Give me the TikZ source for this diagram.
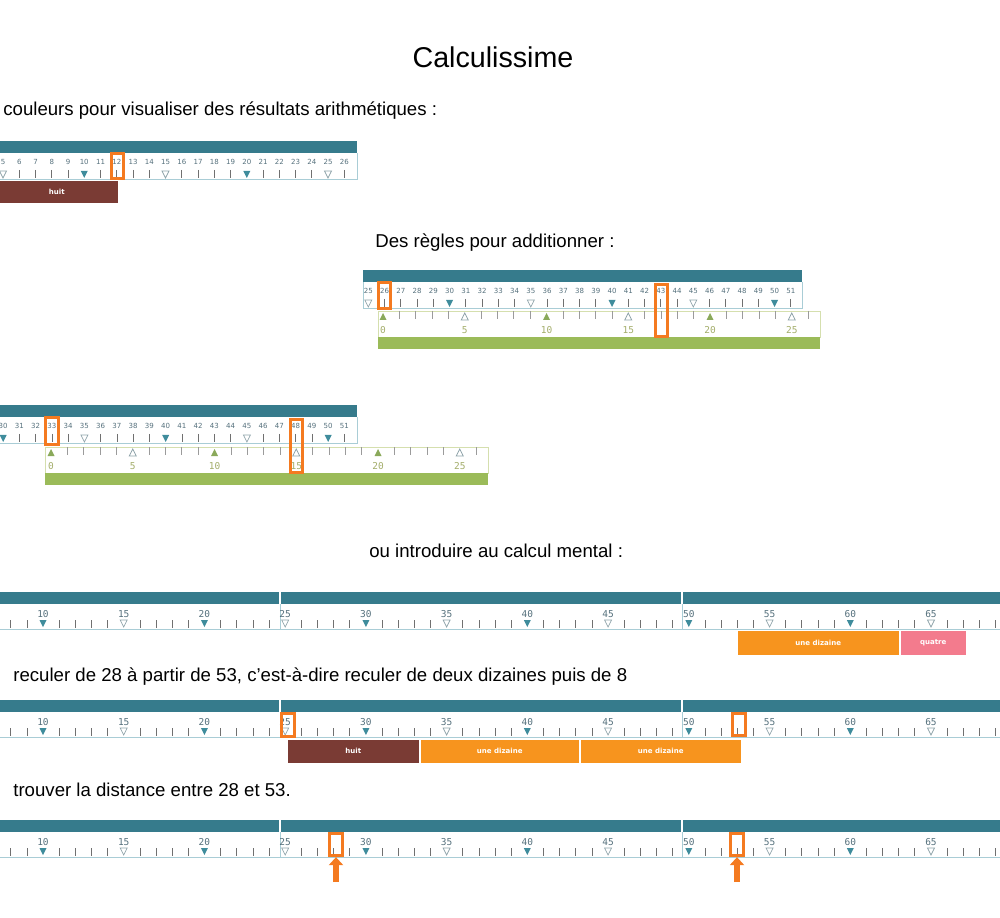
\documentclass[tikz,border=0pt]{standalone}
\usepackage{fontspec}
\setmainfont{Liberation Sans}
\newfontfamily\rulersans{DejaVu Sans}
\newfontfamily\rulermono{DejaVu Sans Mono}
\usetikzlibrary{arrows.meta,positioning}

\definecolor{barteal}{HTML}{367B8C}
\definecolor{rimblue}{HTML}{A9CDD6}
\definecolor{tealtri}{HTML}{3F8C9C}
\definecolor{hollowgray}{HTML}{8FA3AA}
\definecolor{tickgray}{HTML}{707070}
\definecolor{numteal}{HTML}{55707C}
\definecolor{leafgreen}{HTML}{9BBB59}
\definecolor{rimgreen}{HTML}{D5DFAE}
\definecolor{greentri}{HTML}{8AA95A}
\definecolor{greennum}{HTML}{A3AD6A}
\definecolor{hiorange}{HTML}{F47A20}
\definecolor{brickred}{HTML}{7A3B34}
\definecolor{dizorange}{HTML}{F7941E}
\definecolor{quatpink}{HTML}{F37B8D}

% short teal ruler: top y, left x, right x, x of first number, first number, last number
\newcommand{\tealruler}[6]{%
  \fill[barteal] (#2,#1) rectangle (#3,#1+12);
  \draw[rimblue] (#2,#1+12) -- (#2,#1+38) -- (#3,#1+38) -- (#3,#1+12);
  \foreach \v in {#5,...,#6}{%
    \pgfmathsetmacro{\xx}{#4+(\v-#5)*16.25}
    \pgfmathtruncatemacro{\rr}{mod(\v,10)}
    \node[smallnum] at (\xx,#1+21) {\v};
    \ifnum\rr=0
      \fill[tealtri] (\xx-3.5,#1+30) -- (\xx+3.5,#1+30) -- (\xx,#1+37) -- cycle;
    \else\ifnum\rr=5
      \draw[hollowgray] (\xx-3.5,#1+30) -- (\xx+3.5,#1+30) -- (\xx,#1+37) -- cycle;
    \else
      \draw[tickgray] (\xx,#1+29) -- (\xx,#1+37);
    \fi\fi
  }%
}

% green ruler: top y, left x, right x, x of zero
\newcommand{\greenruler}[4]{%
  \draw[rimgreen] (#2,#1) rectangle (#3,#1+26);
  \fill[leafgreen] (#2,#1+26) rectangle (#3,#1+38);
  \foreach \u in {0,...,26}{%
    \pgfmathsetmacro{\xx}{#4+\u*16.35}
    \pgfmathtruncatemacro{\rr}{mod(\u,10)}
    \pgfmathtruncatemacro{\ff}{mod(\u,5)}
    \ifnum\ff=0 \node[greennumber] at (\xx,#1+19) {\u}; \fi
    \ifnum\rr=0
      \fill[greentri] (\xx-3.5,#1+9) -- (\xx+3.5,#1+9) -- (\xx,#1+2) -- cycle;
    \else\ifnum\rr=5
      \draw[hollowgray] (\xx-3.5,#1+9) -- (\xx+3.5,#1+9) -- (\xx,#1+2) -- cycle;
    \else
      \draw[tickgray!70] (\xx,#1) -- (\xx,#1+8);
    \fi\fi
  }%
}

% long ruler across the page: top y
\newcommand{\longruler}[1]{%
  \fill[barteal] (-5,#1) rectangle (1005,#1+12);
  \draw[rimblue] (-5,#1+37) -- (1005,#1+37);
  \foreach \s in {280,682}{%
    \draw[white, line width=0.6pt] (\s,#1) -- (\s,#1+12);
    \draw[rimblue] (\s,#1+12) -- (\s,#1+37);
  }%
  \foreach \v in {8,...,69}{%
    \pgfmathsetmacro{\xx}{43+(\v-10)*16.145}
    \pgfmathtruncatemacro{\rr}{mod(\v,10)}
    \pgfmathtruncatemacro{\ff}{mod(\v,5)}
    \ifnum\ff=0 \node[bignum] at (\xx,#1+22) {\v}; \fi
    \ifnum\rr=0
      \fill[tealtri] (\xx-3.5,#1+28) -- (\xx+3.5,#1+28) -- (\xx,#1+35) -- cycle;
    \else\ifnum\rr=5
      \draw[hollowgray] (\xx-3.5,#1+28) -- (\xx+3.5,#1+28) -- (\xx,#1+35) -- cycle;
    \else
      \draw[tickgray] (\xx,#1+28) -- (\xx,#1+36);
    \fi\fi
  }%
}

\begin{document}
\begin{tikzpicture}[x=0.02cm, y=-0.02cm,
    smallnum/.style={font=\rulersans\fontsize{4}{5}\selectfont, text=numteal, inner sep=0},
    bignum/.style={font=\rulermono\fontsize{5.4}{6}\selectfont, text=numteal, inner sep=0},
    greennumber/.style={font=\rulermono\fontsize{5.4}{6}\selectfont, text=greennum, inner sep=0},
    say/.style={font=\fontsize{10.6}{12}\selectfont, anchor=west, inner sep=0},
    hibox/.style={draw=hiorange, line width=0.065cm, inner sep=0, minimum width=0.25cm},
    barbox/.style={draw=white, line width=0.3pt, inner sep=0, text=white,
      font=\rulersans\bfseries\fontsize{4}{5}\selectfont, minimum height=0.48cm},
    hiarrow/.style={draw=hiorange, line width=0.12cm, -{Triangle[width=0.28cm, length=0.16cm]}}]
  \useasboundingbox (0,0) rectangle (1000,918);

  % title and captions
  \node[font=\fontsize{16.3}{19}\selectfont, inner sep=0] (title) at (493,57) {Calculissime};
  \node[say] (capcolours) at (3,111) {couleurs pour visualiser des résultats arithmétiques :};
  \node[say] (caprules) at (375,243) {Des règles pour additionner :};
  \node[say] (capmental) at (369,551) {ou introduire au calcul mental :};
  \node[say] (capback) at (13,677) {reculer de 28 à partir de 53, c’est-à-dire reculer de deux dizaines puis de 8};
  \node[say] (capdist) at (13,790) {trouver la distance entre 28 et 53.};

  % first ruler with the brown bar
  \tealruler{141}{-5}{357}{3}{5}{26}
  \node[barbox, fill=brickred, minimum width=2.46cm, minimum height=0.46cm, anchor=north west] (huitA) at (-5,180) {huit};
  \node[hibox, minimum height=0.5cm] (boxA) at (117.5,166) {};

  % addition rulers
  \tealruler{270}{363}{802}{368.3}{25}{51}
  \greenruler{311}{378}{820}{383}
  \node[hibox, minimum height=0.52cm] (boxB) at (384.5,295.5) {};
  \node[hibox, minimum height=1.04cm] (boxC) at (661.5,310.5) {};

  \tealruler{405}{-5}{357}{3.2}{30}{51}
  \greenruler{447}{45}{488}{51}
  \node[hibox, minimum height=0.54cm] (boxD) at (52,431) {};
  \node[hibox, minimum height=1.06cm] (boxE) at (296.5,446) {};

  % mental arithmetic
  \longruler{592}
  \node[barbox, fill=dizorange, minimum width=3.24cm, minimum height=0.5cm, anchor=north west] (dizF) at (737,630) {une dizaine};
  \node[barbox, fill=quatpink, minimum width=1.34cm, minimum height=0.5cm, right=0pt of dizF] (quatreF) {quatre};

  \longruler{700}
  \node[barbox, fill=brickred, minimum width=2.64cm, anchor=north west] (huitG) at (287,739) {huit};
  \node[barbox, fill=dizorange, minimum width=3.2cm, right=0pt of huitG] (dizG) {une dizaine};
  \node[barbox, fill=dizorange, minimum width=3.22cm, right=0pt of dizG] (dizH) {une dizaine};
  \node[hibox, minimum height=0.46cm] (boxG) at (288,725) {};
  \node[hibox, minimum height=0.44cm] (boxH) at (739,724.5) {};

  \longruler{820}
  \node[hibox, minimum height=0.44cm] (boxJ) at (336,844.5) {};
  \node[hibox, minimum height=0.44cm] (boxK) at (737,844.5) {};
  \coordinate (tailJ) at (336,882);
  \coordinate (tailK) at (737,882);
  \draw[hiarrow] (tailJ) -- (boxJ.south);
  \draw[hiarrow] (tailK) -- (boxK.south);
\end{tikzpicture}
\end{document}
